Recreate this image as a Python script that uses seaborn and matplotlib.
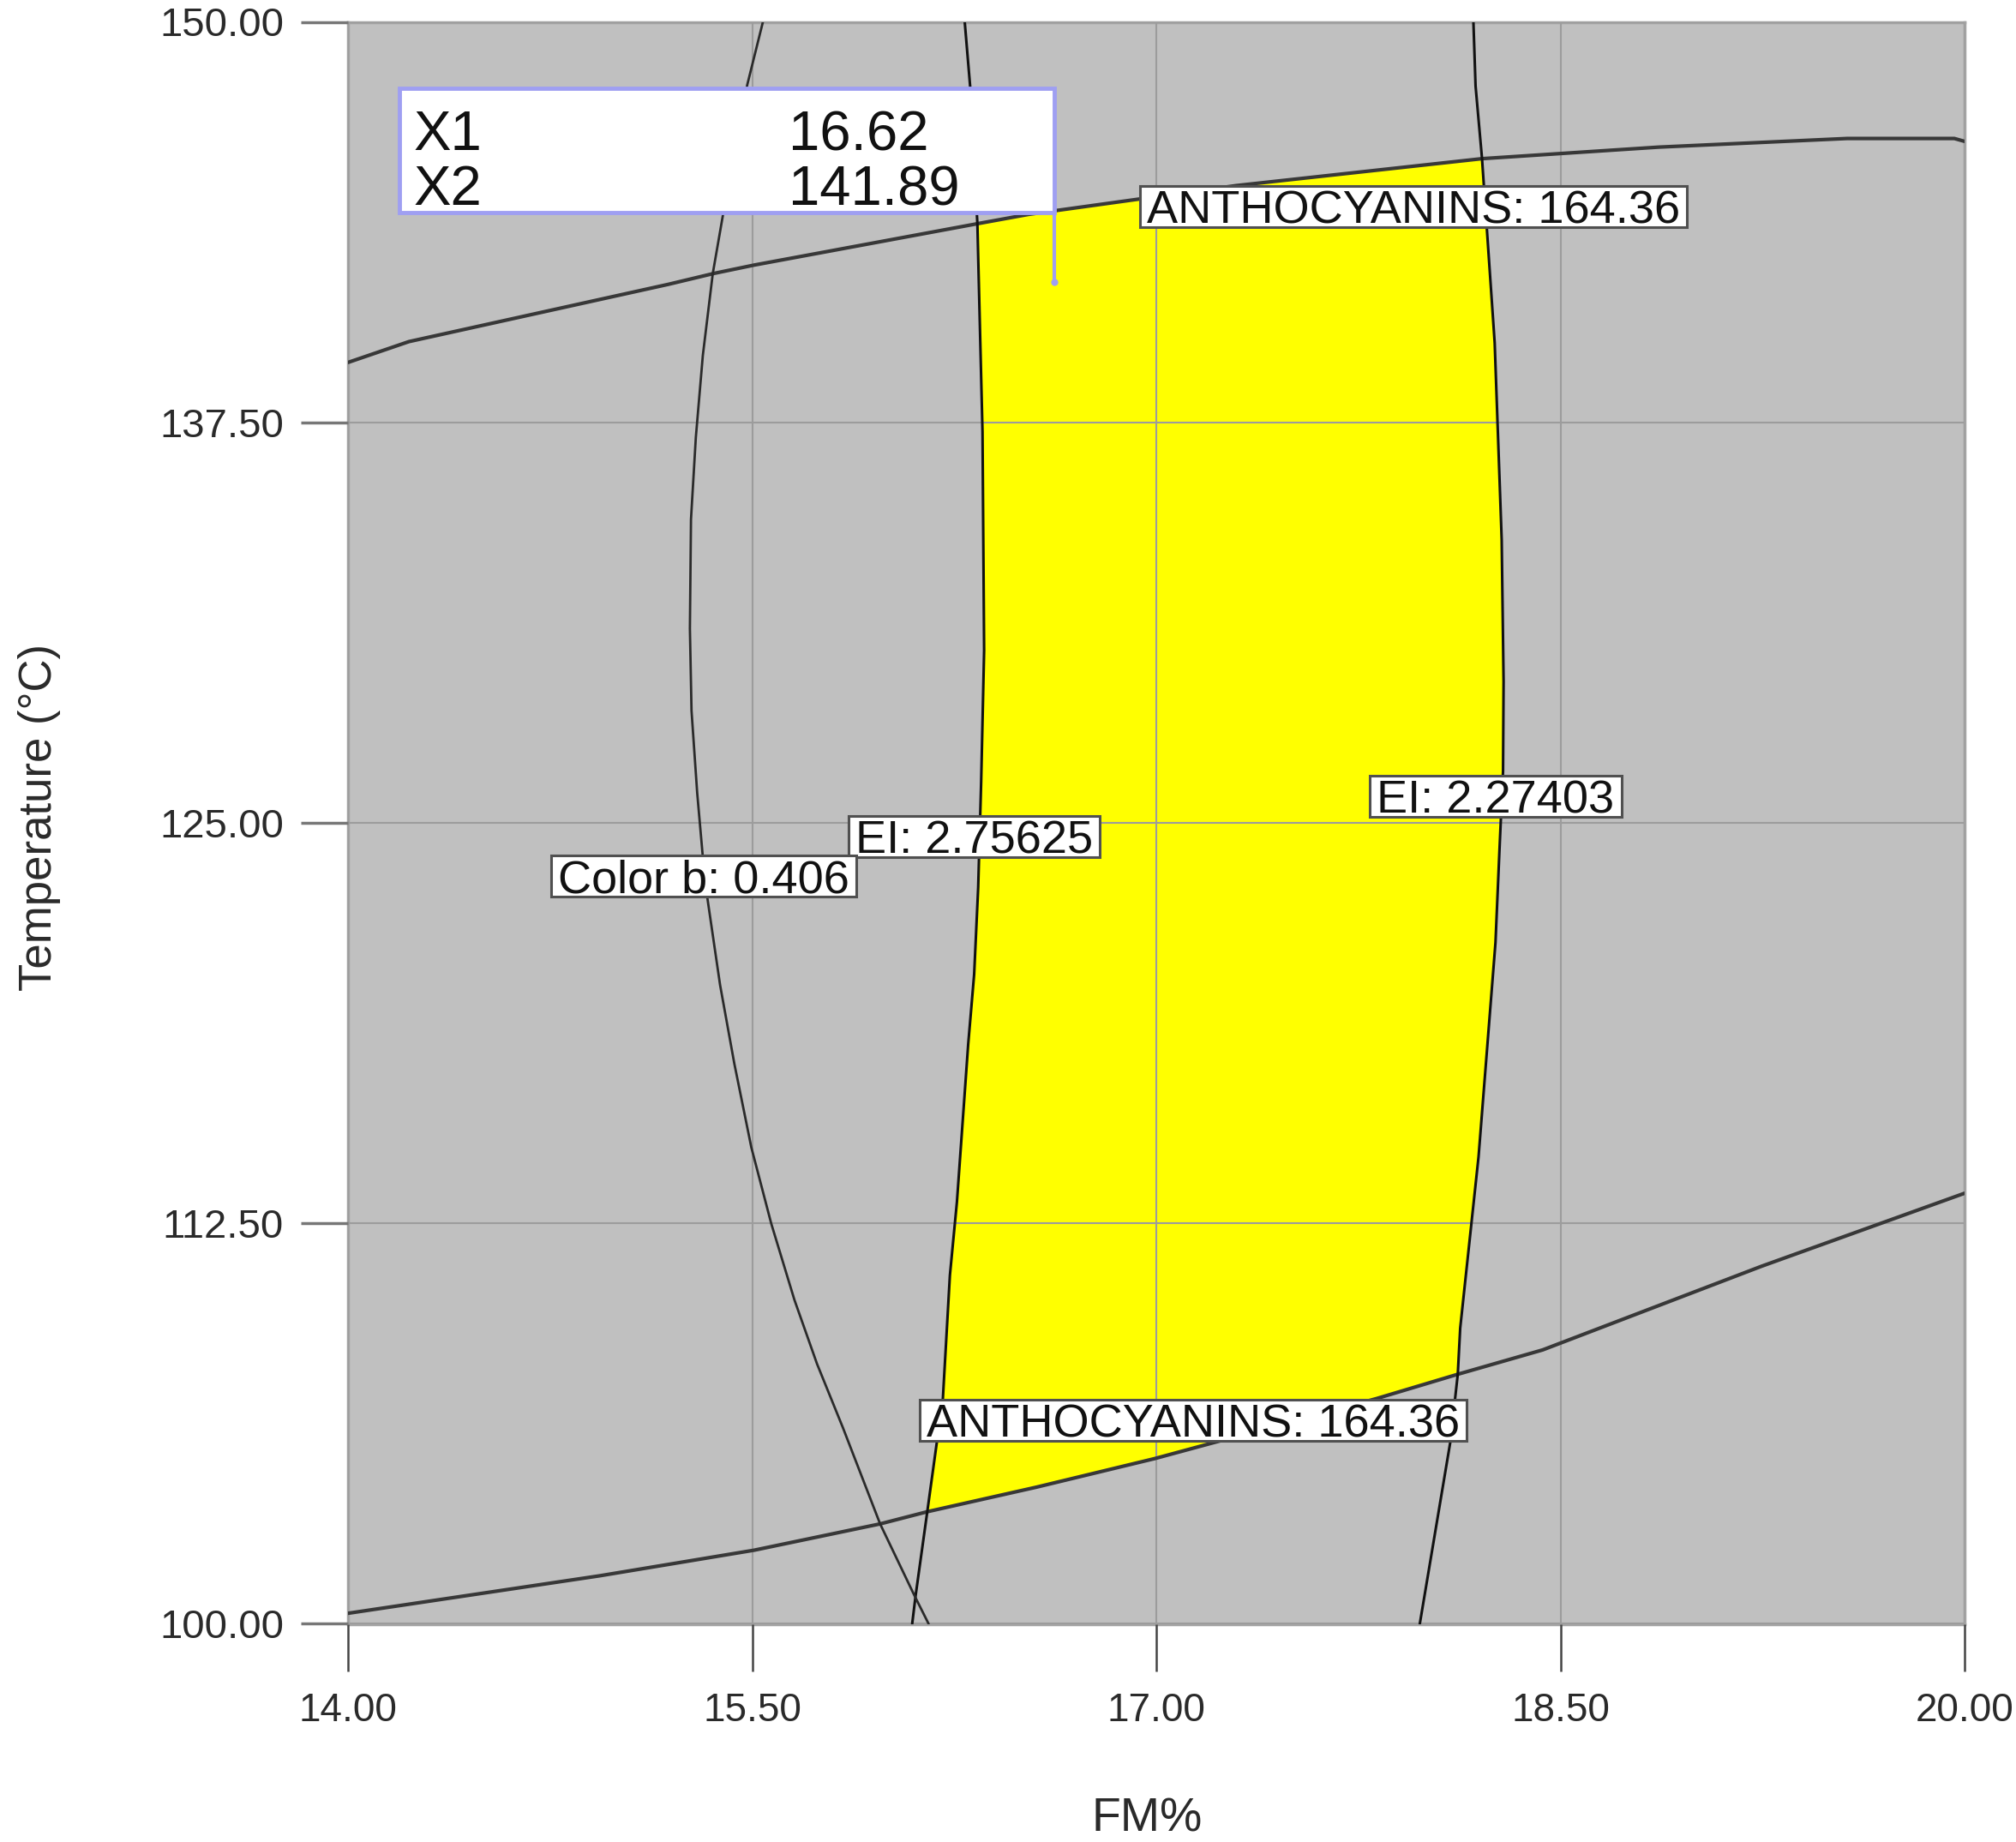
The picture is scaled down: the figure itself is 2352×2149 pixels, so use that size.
import matplotlib
matplotlib.use("Agg")
import matplotlib.pyplot as plt
import seaborn as sns
import pandas as pd
from matplotlib.patches import Rectangle
from matplotlib.transforms import ScaledTranslation

# ---------------- data ----------------
x_ticks = [14.0, 15.5, 17.0, 18.5, 20.0]
y_ticks = [100.0, 112.5, 125.0, 137.5, 150.0]
x_tick_labels = ["14.00", "15.50", "17.00", "18.50", "20.00"]
y_tick_labels = ["100.00", "112.50", "125.00", "137.50", "150.00"]

# ANTHOCYANINS = 164.36, upper contour
anth_upper_fm = [14.000, 14.226, 15.190, 15.359, 15.508, 16.336, 16.525, 17.297, 18.209, 18.864, 19.564, 19.962, 20.000]
anth_upper_t = [139.37, 140.02, 141.81, 142.15, 142.41, 143.70, 143.99, 144.89, 145.73, 146.09, 146.36, 146.36, 146.27]

# ANTHOCYANINS = 164.36, lower contour
anth_lower_fm = [14.000, 14.934, 15.508, 15.975, 16.150, 16.557, 16.995, 17.232, 17.817, 18.119, 18.434, 19.246, 20.000]
anth_lower_t = [100.33, 101.50, 102.30, 103.12, 103.50, 104.27, 105.16, 105.70, 107.03, 107.79, 108.55, 111.16, 113.44]

# EI = 2.75625 contour
ei_left_fm = [16.289, 16.309, 16.336, 16.339, 16.355, 16.361, 16.350, 16.339, 16.324, 16.302, 16.260, 16.234, 16.208, 16.150, 16.107, 16.094]
ei_left_t = [150.00, 148.00, 143.70, 142.66, 137.20, 130.38, 126.28, 122.99, 120.27, 118.10, 113.16, 110.88, 107.04, 103.50, 100.90, 100.00]

# EI = 2.27403 contour
ei_right_fm = [18.177, 18.185, 18.209, 18.256, 18.282, 18.289, 18.287, 18.274, 18.259, 18.196, 18.128, 18.119, 18.091, 17.978]
ei_right_t = [150.00, 148.00, 145.73, 139.98, 133.83, 129.41, 126.61, 124.20, 121.27, 114.57, 109.23, 107.79, 105.66, 100.00]

# Color b = 0.406 contour
color_b_fm = [15.540, 15.482, 15.391, 15.354, 15.317, 15.291, 15.273, 15.269, 15.275, 15.296, 15.317,
              15.333, 15.381, 15.434, 15.497, 15.571, 15.657, 15.741, 15.837, 15.975, 16.102, 16.155]
color_b_t = [150.00, 148.04, 143.94, 142.15, 139.59, 137.03, 134.47, 131.06, 128.50, 125.94, 123.93,
             122.70, 119.94, 117.48, 114.87, 112.49, 110.11, 108.11, 106.12, 103.12, 100.89, 100.00]

contour_labels = ["ANTHOCYANINS: 164.36", "EI: 2.27403", "EI: 2.75625", "Color b: 0.406", "ANTHOCYANINS: 164.36"]

# flagged optimum point
opt_x1 = 16.62
opt_x2 = 141.89

# ---------------- style ----------------
sns.set_style("white")
plt.rcParams["font.family"] = ["Liberation Sans", "DejaVu Sans"]

W, H = 2352, 2149
fig = plt.figure(figsize=(W / 100, H / 100), dpi=100)
ax = fig.add_axes([406 / W, 1 - 1894.5 / H, 1886 / W, 1869 / H])
ax.set_facecolor("#c0c0c0")
ax.set_xlim(14, 20)
ax.set_ylim(100, 150)

# ---------------- yellow feasible region ----------------
def shared(xa, ya, xb, yb):
    for i, p in enumerate(zip(xa, ya)):
        for j, q in enumerate(zip(xb, yb)):
            if p == q:
                return i, j
    raise ValueError("no shared corner")

i_tl_l, i_tl_u = shared(ei_left_fm, ei_left_t, anth_upper_fm, anth_upper_t)
i_tr_u, i_tr_r = shared(anth_upper_fm, anth_upper_t, ei_right_fm, ei_right_t)
i_br_r, i_br_b = shared(ei_right_fm, ei_right_t, anth_lower_fm, anth_lower_t)
i_bl_b, i_bl_l = shared(anth_lower_fm, anth_lower_t, ei_left_fm, ei_left_t)

poly_x = (ei_left_fm[i_tl_l:i_bl_l + 1][::-1] + anth_upper_fm[i_tl_u:i_tr_u + 1]
          + ei_right_fm[i_tr_r:i_br_r + 1] + anth_lower_fm[i_bl_b:i_br_b + 1][::-1])
poly_y = (ei_left_t[i_tl_l:i_bl_l + 1][::-1] + anth_upper_t[i_tl_u:i_tr_u + 1]
          + ei_right_t[i_tr_r:i_br_r + 1] + anth_lower_t[i_bl_b:i_br_b + 1][::-1])
ax.fill(poly_x, poly_y, color="#ffff00", lw=0, zorder=1)

# ---------------- grid ----------------
ax.set_axisbelow(False)
ax.grid(True, color="#9c9c9c", lw=1.5)

# ---------------- contour lines ----------------
curves = [
    (anth_upper_fm, anth_upper_t, "#383838", 3.0),
    (anth_lower_fm, anth_lower_t, "#383838", 3.0),
    (ei_left_fm, ei_left_t, "#111111", 2.2),
    (ei_right_fm, ei_right_t, "#111111", 2.2),
    (color_b_fm, color_b_t, "#2a2a2a", 2.0),
]
for xs, ys, col, lw in curves:
    df = pd.DataFrame({"FM": xs, "T": ys})
    sns.lineplot(data=df, x="FM", y="T", sort=False, estimator=None, color=col, lw=lw, ax=ax, zorder=3)

# ---------------- axes cosmetics ----------------
ax.set_xticks(x_ticks)
ax.set_xticklabels(x_tick_labels)
ax.set_yticks(y_ticks)
ax.set_yticklabels(y_tick_labels)
ax.tick_params(axis="x", bottom=True, direction="out", length=39.6, width=1.8, color="#444444", pad=18,
               labelsize=33, labelcolor="#2a2a2a")
ax.tick_params(axis="y", left=True, direction="out", length=39.6, width=2.5, color="#777777", pad=14.4,
               labelsize=34, labelcolor="#2a2a2a")
for s in ax.spines.values():
    s.set_color("#a4a4a4")
    s.set_linewidth(2.5)

ax.set_xlabel("FM%", fontsize=40, color="#2a2a2a")
ax.xaxis.set_label_coords(0.4944, -0.1080)
ax.set_ylabel("Temperature (\u00b0C)", fontsize=38, color="#2a2a2a")
ax.yaxis.set_label_coords(-0.1776, 0.5035)

# ---------------- contour labels (boxed) ----------------
label_fm = [17.954, 18.260, 16.325, 15.321, 17.136]
label_t = [144.24, 125.82, 124.58, 123.35, 106.35]
lab_fs = 39
shift = ScaledTranslation(0, -0.358 * lab_fs / 72, fig.dpi_scale_trans)
texts = []
for s, fx, ty in zip(contour_labels, label_fm, label_t):
    t = ax.text(fx, ty, s, ha="center", va="baseline", fontsize=lab_fs, color="#111111",
                transform=ax.transData + shift, zorder=6)
    texts.append((t, fx, ty))

fig.canvas.draw()
renderer = fig.canvas.get_renderer()
inv = ax.transData.inverted()
for t, fx, ty in texts:
    bb = t.get_window_extent(renderer)
    cx, cy = ax.transData.transform((fx, ty))
    x0, y0 = inv.transform((bb.x0 - 8, cy - 24))
    x1, y1 = inv.transform((bb.x1 + 8, cy + 24))
    ax.add_patch(Rectangle((x0, y0), x1 - x0, y1 - y0, facecolor="white", edgecolor="#505050",
                           lw=2.2, zorder=5))

# ---------------- flag box for the optimum ----------------
box_left, box_bottom, box_top = 14.191, 144.04, 147.935
flag_col = "#9f9ff2"
ax.add_patch(Rectangle((box_left, box_bottom), opt_x1 - box_left, box_top - box_bottom,
                       facecolor="white", edgecolor=flag_col, lw=3.5, zorder=7))
sns.lineplot(x=[opt_x1, opt_x1], y=[opt_x2, box_bottom], sort=False, estimator=None,
             color=flag_col, lw=3, ax=ax, zorder=7)
ax.plot([opt_x1], [opt_x2], "o", ms=5, color=flag_col, zorder=8)
flag_fs = 47
ax.text(14.242, 146.00, "X1", fontsize=flag_fs, ha="left", va="baseline", color="#111111", zorder=8)
ax.text(15.634, 146.00, f"{opt_x1:.2f}", fontsize=flag_fs, ha="left", va="baseline", color="#111111", zorder=8)
ax.text(14.242, 144.28, "X2", fontsize=flag_fs, ha="left", va="baseline", color="#111111", zorder=8)
ax.text(15.634, 144.28, f"{opt_x2:.2f}", fontsize=flag_fs, ha="left", va="baseline", color="#111111", zorder=8)

fig.savefig("out.png", dpi=100, facecolor="white")
